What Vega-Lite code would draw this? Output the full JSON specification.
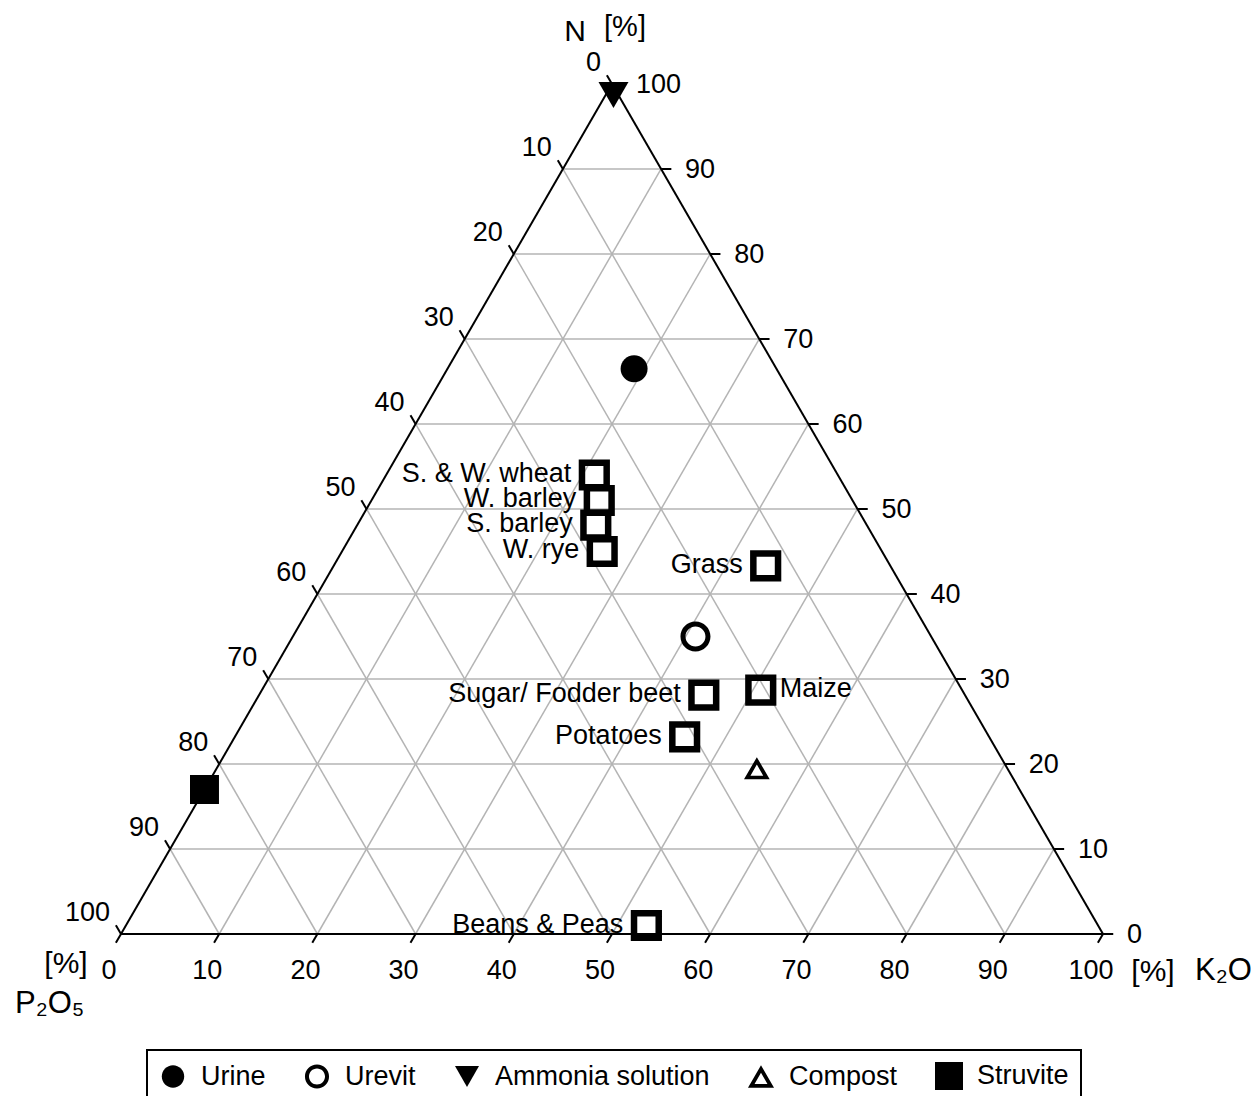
{
  "$schema": "https://vega.github.io/schema/vega-lite/v6.json",
  "width": 982,
  "height": 850,
  "autosize": {"type": "none"},
  "padding": {"left": 121, "top": 84, "right": 153, "bottom": 162},
  "background": "white",
  "config": {
    "view": {"stroke": null},
    "font": "Liberation Sans",
    "text": {"font": "Liberation Sans", "fontSize": 27, "color": "black"},
    "legend": {"strokeWidth": 2}
  },
  "datasets": {
    "edges": [
      {"n1": 0, "k1": 0, "n2": 0, "k2": 100},
      {"n1": 0, "k1": 100, "n2": 100, "k2": 0},
      {"n1": 100, "k1": 0, "n2": 0, "k2": 0}
    ],
    "grid": [
      {"family": "N", "n1": 10, "k1": 0, "n2": 10, "k2": 90},
      {"family": "N", "n1": 20, "k1": 0, "n2": 20, "k2": 80},
      {"family": "N", "n1": 30, "k1": 0, "n2": 30, "k2": 70},
      {"family": "N", "n1": 40, "k1": 0, "n2": 40, "k2": 60},
      {"family": "N", "n1": 50, "k1": 0, "n2": 50, "k2": 50},
      {"family": "N", "n1": 60, "k1": 0, "n2": 60, "k2": 40},
      {"family": "N", "n1": 70, "k1": 0, "n2": 70, "k2": 30},
      {"family": "N", "n1": 80, "k1": 0, "n2": 80, "k2": 20},
      {"family": "N", "n1": 90, "k1": 0, "n2": 90, "k2": 10},
      {"family": "K", "n1": 0, "k1": 10, "n2": 90, "k2": 10},
      {"family": "K", "n1": 0, "k1": 20, "n2": 80, "k2": 20},
      {"family": "K", "n1": 0, "k1": 30, "n2": 70, "k2": 30},
      {"family": "K", "n1": 0, "k1": 40, "n2": 60, "k2": 40},
      {"family": "K", "n1": 0, "k1": 50, "n2": 50, "k2": 50},
      {"family": "K", "n1": 0, "k1": 60, "n2": 40, "k2": 60},
      {"family": "K", "n1": 0, "k1": 70, "n2": 30, "k2": 70},
      {"family": "K", "n1": 0, "k1": 80, "n2": 20, "k2": 80},
      {"family": "K", "n1": 0, "k1": 90, "n2": 10, "k2": 90},
      {"family": "P", "n1": 0, "k1": 90, "n2": 90, "k2": 0},
      {"family": "P", "n1": 0, "k1": 80, "n2": 80, "k2": 0},
      {"family": "P", "n1": 0, "k1": 70, "n2": 70, "k2": 0},
      {"family": "P", "n1": 0, "k1": 60, "n2": 60, "k2": 0},
      {"family": "P", "n1": 0, "k1": 50, "n2": 50, "k2": 0},
      {"family": "P", "n1": 0, "k1": 40, "n2": 40, "k2": 0},
      {"family": "P", "n1": 0, "k1": 30, "n2": 30, "k2": 0},
      {"family": "P", "n1": 0, "k1": 20, "n2": 20, "k2": 0},
      {"family": "P", "n1": 0, "k1": 10, "n2": 10, "k2": 0}
    ],
    "ticks": [
      {"axis": "K", "value": 0, "n": 0, "k": 0, "p": 100},
      {"axis": "K", "value": 10, "n": 0, "k": 10, "p": 90},
      {"axis": "K", "value": 20, "n": 0, "k": 20, "p": 80},
      {"axis": "K", "value": 30, "n": 0, "k": 30, "p": 70},
      {"axis": "K", "value": 40, "n": 0, "k": 40, "p": 60},
      {"axis": "K", "value": 50, "n": 0, "k": 50, "p": 50},
      {"axis": "K", "value": 60, "n": 0, "k": 60, "p": 40},
      {"axis": "K", "value": 70, "n": 0, "k": 70, "p": 30},
      {"axis": "K", "value": 80, "n": 0, "k": 80, "p": 20},
      {"axis": "K", "value": 90, "n": 0, "k": 90, "p": 10},
      {"axis": "K", "value": 100, "n": 0, "k": 100, "p": 0},
      {"axis": "N", "value": 0, "n": 0, "k": 100, "p": 0},
      {"axis": "N", "value": 10, "n": 10, "k": 90, "p": 0},
      {"axis": "N", "value": 20, "n": 20, "k": 80, "p": 0},
      {"axis": "N", "value": 30, "n": 30, "k": 70, "p": 0},
      {"axis": "N", "value": 40, "n": 40, "k": 60, "p": 0},
      {"axis": "N", "value": 50, "n": 50, "k": 50, "p": 0},
      {"axis": "N", "value": 60, "n": 60, "k": 40, "p": 0},
      {"axis": "N", "value": 70, "n": 70, "k": 30, "p": 0},
      {"axis": "N", "value": 80, "n": 80, "k": 20, "p": 0},
      {"axis": "N", "value": 90, "n": 90, "k": 10, "p": 0},
      {"axis": "N", "value": 100, "n": 100, "k": 0, "p": 0},
      {"axis": "P", "value": 0, "n": 100, "k": 0, "p": 0},
      {"axis": "P", "value": 10, "n": 90, "k": 0, "p": 10},
      {"axis": "P", "value": 20, "n": 80, "k": 0, "p": 20},
      {"axis": "P", "value": 30, "n": 70, "k": 0, "p": 30},
      {"axis": "P", "value": 40, "n": 60, "k": 0, "p": 40},
      {"axis": "P", "value": 50, "n": 50, "k": 0, "p": 50},
      {"axis": "P", "value": 60, "n": 40, "k": 0, "p": 60},
      {"axis": "P", "value": 70, "n": 30, "k": 0, "p": 70},
      {"axis": "P", "value": 80, "n": 20, "k": 0, "p": 80},
      {"axis": "P", "value": 90, "n": 10, "k": 0, "p": 90},
      {"axis": "P", "value": 100, "n": 0, "k": 0, "p": 100}
    ],
    "titles": [
      {"id": "N", "text": "N", "n": 100, "k": 0, "p": 0},
      {"id": "N_unit", "text": "[%]", "n": 100, "k": 0, "p": 0},
      {"id": "P", "text": "P₂O₅", "n": 0, "k": 0, "p": 100},
      {"id": "P_unit", "text": "[%]", "n": 0, "k": 0, "p": 100},
      {"id": "K", "text": "K₂O", "n": 0, "k": 100, "p": 0},
      {"id": "K_unit", "text": "[%]", "n": 0, "k": 100, "p": 0}
    ],
    "fertilizers": [
      {"type": "Urine", "n": 66.5, "k": 19, "p": 14.5},
      {"type": "Urevit", "n": 35, "k": 41, "p": 24},
      {"type": "Ammonia solution", "n": 98.7, "k": 0.8, "p": 0.5},
      {"type": "Compost", "n": 19.5, "k": 55, "p": 25.5},
      {"type": "Struvite", "n": 17, "k": 0, "p": 83}
    ],
    "crops": [
      {"crop": "S. & W. wheat", "n": 54, "k": 21.2, "p": 24.8},
      {"crop": "W. barley", "n": 51, "k": 23.2, "p": 25.8},
      {"crop": "S. barley", "n": 48.1, "k": 24.3, "p": 27.6},
      {"crop": "W. rye", "n": 45, "k": 26.5, "p": 28.5},
      {"crop": "Grass", "n": 43.3, "k": 44, "p": 12.7},
      {"crop": "Sugar/ Fodder beet", "n": 28.1, "k": 45.3, "p": 26.6},
      {"crop": "Maize", "n": 28.7, "k": 50.8, "p": 20.5},
      {"crop": "Potatoes", "n": 23.2, "k": 45.8, "p": 31},
      {"crop": "Beans & Peas", "n": 1, "k": 53, "p": 46}
    ]
  },
  "layer": [
    {
      "data": {"name": "grid"},
      "transform": [
        {"calculate": "datum.k1 + datum.n1 / 2", "as": "X"},
        {"calculate": "datum.n1 * 0.8660254", "as": "Y"},
        {"calculate": "datum.k2 + datum.n2 / 2", "as": "X2"},
        {"calculate": "datum.n2 * 0.8660254", "as": "Y2"}
      ],
      "mark": {"type": "rule", "color": "#b4b4b4", "strokeWidth": 1.5},
      "encoding": {
        "x": {"field": "X", "type": "quantitative", "scale": {"domain": [0, 100], "nice": false, "zero": false}, "axis": null},
        "y": {"field": "Y", "type": "quantitative", "scale": {"domain": [0, 86.6025], "nice": false, "zero": false}, "axis": null},
        "x2": {"field": "X2"},
        "y2": {"field": "Y2"}
      }
    },
    {
      "data": {"name": "edges"},
      "transform": [
        {"calculate": "datum.k1 + datum.n1 / 2", "as": "X"},
        {"calculate": "datum.n1 * 0.8660254", "as": "Y"},
        {"calculate": "datum.k2 + datum.n2 / 2", "as": "X2"},
        {"calculate": "datum.n2 * 0.8660254", "as": "Y2"}
      ],
      "mark": {"type": "rule", "color": "black", "strokeWidth": 2},
      "encoding": {
        "x": {"field": "X", "type": "quantitative", "scale": {"domain": [0, 100], "nice": false, "zero": false}, "axis": null},
        "y": {"field": "Y", "type": "quantitative", "scale": {"domain": [0, 86.6025], "nice": false, "zero": false}, "axis": null},
        "x2": {"field": "X2"},
        "y2": {"field": "Y2"}
      }
    },
    {
      "data": {"name": "ticks"},
      "transform": [
        {"filter": "datum.axis === 'K'"},
        {"calculate": "datum.k + datum.n / 2", "as": "X"},
        {"calculate": "datum.n * 0.8660254", "as": "Y"}
      ],
      "mark": {"type": "point", "shape": "M0,0L-0.5,0.866", "filled": false, "stroke": "black", "strokeWidth": 2, "size": 420, "opacity": 1},
      "encoding": {
        "x": {"field": "X", "type": "quantitative", "scale": {"domain": [0, 100], "nice": false, "zero": false}, "axis": null},
        "y": {"field": "Y", "type": "quantitative", "scale": {"domain": [0, 86.6025], "nice": false, "zero": false}, "axis": null}
      }
    },
    {
      "data": {"name": "ticks"},
      "transform": [
        {"filter": "datum.axis === 'N'"},
        {"calculate": "datum.k + datum.n / 2", "as": "X"},
        {"calculate": "datum.n * 0.8660254", "as": "Y"}
      ],
      "mark": {"type": "point", "shape": "M0,0L1,0", "filled": false, "stroke": "black", "strokeWidth": 2, "size": 420, "opacity": 1},
      "encoding": {
        "x": {"field": "X", "type": "quantitative", "scale": {"domain": [0, 100], "nice": false, "zero": false}, "axis": null},
        "y": {"field": "Y", "type": "quantitative", "scale": {"domain": [0, 86.6025], "nice": false, "zero": false}, "axis": null}
      }
    },
    {
      "data": {"name": "ticks"},
      "transform": [
        {"filter": "datum.axis === 'P'"},
        {"calculate": "datum.k + datum.n / 2", "as": "X"},
        {"calculate": "datum.n * 0.8660254", "as": "Y"}
      ],
      "mark": {"type": "point", "shape": "M0,0L-0.5,-0.866", "filled": false, "stroke": "black", "strokeWidth": 2, "size": 420, "opacity": 1},
      "encoding": {
        "x": {"field": "X", "type": "quantitative", "scale": {"domain": [0, 100], "nice": false, "zero": false}, "axis": null},
        "y": {"field": "Y", "type": "quantitative", "scale": {"domain": [0, 86.6025], "nice": false, "zero": false}, "axis": null}
      }
    },
    {
      "data": {"name": "ticks"},
      "transform": [
        {"filter": "datum.axis === 'K'"},
        {"calculate": "datum.k + datum.n / 2", "as": "X"},
        {"calculate": "datum.n * 0.8660254", "as": "Y"}
      ],
      "mark": {"type": "text", "align": "center", "baseline": "middle", "dx": -12, "dy": 37, "fontSize": 27},
      "encoding": {
        "x": {"field": "X", "type": "quantitative", "scale": {"domain": [0, 100], "nice": false, "zero": false}, "axis": null},
        "y": {"field": "Y", "type": "quantitative", "scale": {"domain": [0, 86.6025], "nice": false, "zero": false}, "axis": null},
        "text": {"field": "value", "type": "nominal"}
      }
    },
    {
      "data": {"name": "ticks"},
      "transform": [
        {"filter": "datum.axis === 'N'"},
        {"calculate": "datum.k + datum.n / 2", "as": "X"},
        {"calculate": "datum.n * 0.8660254", "as": "Y"}
      ],
      "mark": {"type": "text", "align": "left", "baseline": "middle", "dx": 24, "dy": 1, "fontSize": 27},
      "encoding": {
        "x": {"field": "X", "type": "quantitative", "scale": {"domain": [0, 100], "nice": false, "zero": false}, "axis": null},
        "y": {"field": "Y", "type": "quantitative", "scale": {"domain": [0, 86.6025], "nice": false, "zero": false}, "axis": null},
        "text": {"field": "value", "type": "nominal"}
      }
    },
    {
      "data": {"name": "ticks"},
      "transform": [
        {"filter": "datum.axis === 'P'"},
        {"calculate": "datum.k + datum.n / 2", "as": "X"},
        {"calculate": "datum.n * 0.8660254", "as": "Y"}
      ],
      "mark": {"type": "text", "align": "right", "baseline": "middle", "dx": -11, "dy": -21, "fontSize": 27},
      "encoding": {
        "x": {"field": "X", "type": "quantitative", "scale": {"domain": [0, 100], "nice": false, "zero": false}, "axis": null},
        "y": {"field": "Y", "type": "quantitative", "scale": {"domain": [0, 86.6025], "nice": false, "zero": false}, "axis": null},
        "text": {"field": "value", "type": "nominal"}
      }
    },
    {
      "data": {"name": "titles"},
      "transform": [
        {"filter": "datum.id === 'N'"},
        {"calculate": "datum.k + datum.n / 2", "as": "X"},
        {"calculate": "datum.n * 0.8660254", "as": "Y"}
      ],
      "mark": {"type": "text", "align": "center", "baseline": "middle", "dx": -37, "dy": -52, "fontSize": 30},
      "encoding": {
        "x": {"field": "X", "type": "quantitative", "scale": {"domain": [0, 100], "nice": false, "zero": false}, "axis": null},
        "y": {"field": "Y", "type": "quantitative", "scale": {"domain": [0, 86.6025], "nice": false, "zero": false}, "axis": null},
        "text": {"field": "text", "type": "nominal"}
      }
    },
    {
      "data": {"name": "titles"},
      "transform": [
        {"filter": "datum.id === 'N_unit'"},
        {"calculate": "datum.k + datum.n / 2", "as": "X"},
        {"calculate": "datum.n * 0.8660254", "as": "Y"}
      ],
      "mark": {"type": "text", "align": "center", "baseline": "middle", "dx": 13, "dy": -57, "fontSize": 29},
      "encoding": {
        "x": {"field": "X", "type": "quantitative", "scale": {"domain": [0, 100], "nice": false, "zero": false}, "axis": null},
        "y": {"field": "Y", "type": "quantitative", "scale": {"domain": [0, 86.6025], "nice": false, "zero": false}, "axis": null},
        "text": {"field": "text", "type": "nominal"}
      }
    },
    {
      "data": {"name": "titles"},
      "transform": [
        {"filter": "datum.id === 'P_unit'"},
        {"calculate": "datum.k + datum.n / 2", "as": "X"},
        {"calculate": "datum.n * 0.8660254", "as": "Y"}
      ],
      "mark": {"type": "text", "align": "center", "baseline": "middle", "dx": -55, "dy": 30, "fontSize": 30},
      "encoding": {
        "x": {"field": "X", "type": "quantitative", "scale": {"domain": [0, 100], "nice": false, "zero": false}, "axis": null},
        "y": {"field": "Y", "type": "quantitative", "scale": {"domain": [0, 86.6025], "nice": false, "zero": false}, "axis": null},
        "text": {"field": "text", "type": "nominal"}
      }
    },
    {
      "data": {"name": "titles"},
      "transform": [
        {"filter": "datum.id === 'P'"},
        {"calculate": "datum.k + datum.n / 2", "as": "X"},
        {"calculate": "datum.n * 0.8660254", "as": "Y"}
      ],
      "mark": {"type": "text", "align": "left", "baseline": "alphabetic", "dx": -106, "dy": 79, "fontSize": 31},
      "encoding": {
        "x": {"field": "X", "type": "quantitative", "scale": {"domain": [0, 100], "nice": false, "zero": false}, "axis": null},
        "y": {"field": "Y", "type": "quantitative", "scale": {"domain": [0, 86.6025], "nice": false, "zero": false}, "axis": null},
        "text": {"field": "text", "type": "nominal"}
      }
    },
    {
      "data": {"name": "titles"},
      "transform": [
        {"filter": "datum.id === 'K_unit'"},
        {"calculate": "datum.k + datum.n / 2", "as": "X"},
        {"calculate": "datum.n * 0.8660254", "as": "Y"}
      ],
      "mark": {"type": "text", "align": "center", "baseline": "middle", "dx": 50, "dy": 38, "fontSize": 30},
      "encoding": {
        "x": {"field": "X", "type": "quantitative", "scale": {"domain": [0, 100], "nice": false, "zero": false}, "axis": null},
        "y": {"field": "Y", "type": "quantitative", "scale": {"domain": [0, 86.6025], "nice": false, "zero": false}, "axis": null},
        "text": {"field": "text", "type": "nominal"}
      }
    },
    {
      "data": {"name": "titles"},
      "transform": [
        {"filter": "datum.id === 'K'"},
        {"calculate": "datum.k + datum.n / 2", "as": "X"},
        {"calculate": "datum.n * 0.8660254", "as": "Y"}
      ],
      "mark": {"type": "text", "align": "left", "baseline": "alphabetic", "dx": 92, "dy": 46, "fontSize": 31},
      "encoding": {
        "x": {"field": "X", "type": "quantitative", "scale": {"domain": [0, 100], "nice": false, "zero": false}, "axis": null},
        "y": {"field": "Y", "type": "quantitative", "scale": {"domain": [0, 86.6025], "nice": false, "zero": false}, "axis": null},
        "text": {"field": "text", "type": "nominal"}
      }
    },
    {
      "data": {"name": "crops"},
      "transform": [
        {"calculate": "datum.k + datum.n / 2", "as": "X"},
        {"calculate": "datum.n * 0.8660254", "as": "Y"}
      ],
      "mark": {"type": "point", "shape": "square", "filled": false, "stroke": "black", "strokeWidth": 6.5, "size": 610, "opacity": 1},
      "encoding": {
        "x": {"field": "X", "type": "quantitative", "scale": {"domain": [0, 100], "nice": false, "zero": false}, "axis": null},
        "y": {"field": "Y", "type": "quantitative", "scale": {"domain": [0, 86.6025], "nice": false, "zero": false}, "axis": null}
      }
    },
    {
      "data": {"name": "crops"},
      "transform": [
        {"filter": "datum.crop !== 'Maize'"},
        {"calculate": "datum.k + datum.n / 2", "as": "X"},
        {"calculate": "datum.n * 0.8660254", "as": "Y"}
      ],
      "mark": {"type": "text", "align": "right", "baseline": "middle", "dx": -23, "dy": -1, "fontSize": 27},
      "encoding": {
        "x": {"field": "X", "type": "quantitative", "scale": {"domain": [0, 100], "nice": false, "zero": false}, "axis": null},
        "y": {"field": "Y", "type": "quantitative", "scale": {"domain": [0, 86.6025], "nice": false, "zero": false}, "axis": null},
        "text": {"field": "crop", "type": "nominal"}
      }
    },
    {
      "data": {"name": "crops"},
      "transform": [
        {"filter": "datum.crop === 'Maize'"},
        {"calculate": "datum.k + datum.n / 2", "as": "X"},
        {"calculate": "datum.n * 0.8660254", "as": "Y"}
      ],
      "mark": {"type": "text", "align": "left", "baseline": "middle", "dx": 19, "dy": -1, "fontSize": 27},
      "encoding": {
        "x": {"field": "X", "type": "quantitative", "scale": {"domain": [0, 100], "nice": false, "zero": false}, "axis": null},
        "y": {"field": "Y", "type": "quantitative", "scale": {"domain": [0, 86.6025], "nice": false, "zero": false}, "axis": null},
        "text": {"field": "crop", "type": "nominal"}
      }
    },
    {
      "data": {"name": "fertilizers"},
      "transform": [
        {"calculate": "datum.k + datum.n / 2", "as": "X"},
        {"calculate": "datum.n * 0.8660254", "as": "Y"}
      ],
      "mark": {"type": "point", "filled": true, "color": "black", "strokeWidth": 0, "opacity": 1},
      "encoding": {
        "x": {"field": "X", "type": "quantitative", "scale": {"domain": [0, 100], "nice": false, "zero": false}, "axis": null},
        "y": {"field": "Y", "type": "quantitative", "scale": {"domain": [0, 86.6025], "nice": false, "zero": false}, "axis": null},
        "shape": {
          "field": "type", "type": "nominal",
          "scale": {
            "domain": ["Urine", "Urevit", "Ammonia solution", "Compost", "Struvite"],
            "range": [
              "M-0.8,0A0.8,0.8 0 1,0 0.8,0A0.8,0.8 0 1,0 -0.8,0Z",
              "M-0.86,0A0.86,0.86 0 1,0 0.86,0A0.86,0.86 0 1,0 -0.86,0ZM-0.573,0A0.573,0.573 0 1,1 0.573,0A0.573,0.573 0 1,1 -0.573,0Z",
              "M-0.857,-0.742L0.857,-0.742L0,0.742Z",
              "M0,-0.805L0.93,0.805L-0.93,0.805ZM0,-0.265L-0.462,0.535L0.462,0.535Z",
              "square"
            ]
          },
          "legend": {
            "title": null, "orient": "none", "legendX": 26, "legendY": 966, "direction": "horizontal",
            "labelFont": "Liberation Sans", "labelFontSize": 27, "labelColor": "black", "labelLimit": 400,
            "symbolSize": 784, "symbolStrokeWidth": 0, "symbolFillColor": "black", "symbolOpacity": 1,
            "strokeColor": "black", "fillColor": "white", "padding": 12, "columnPadding": 37, "labelOffset": 14
          }
        },
        "size": {
          "condition": [
            {"test": "datum.type === 'Urine'", "value": 1139},
            {"test": "datum.type === 'Urevit'", "value": 1217},
            {"test": "datum.type === 'Ammonia solution'", "value": 1225},
            {"test": "datum.type === 'Compost'", "value": 763}
          ],
          "value": 841
        }
      }
    }
  ]
}
